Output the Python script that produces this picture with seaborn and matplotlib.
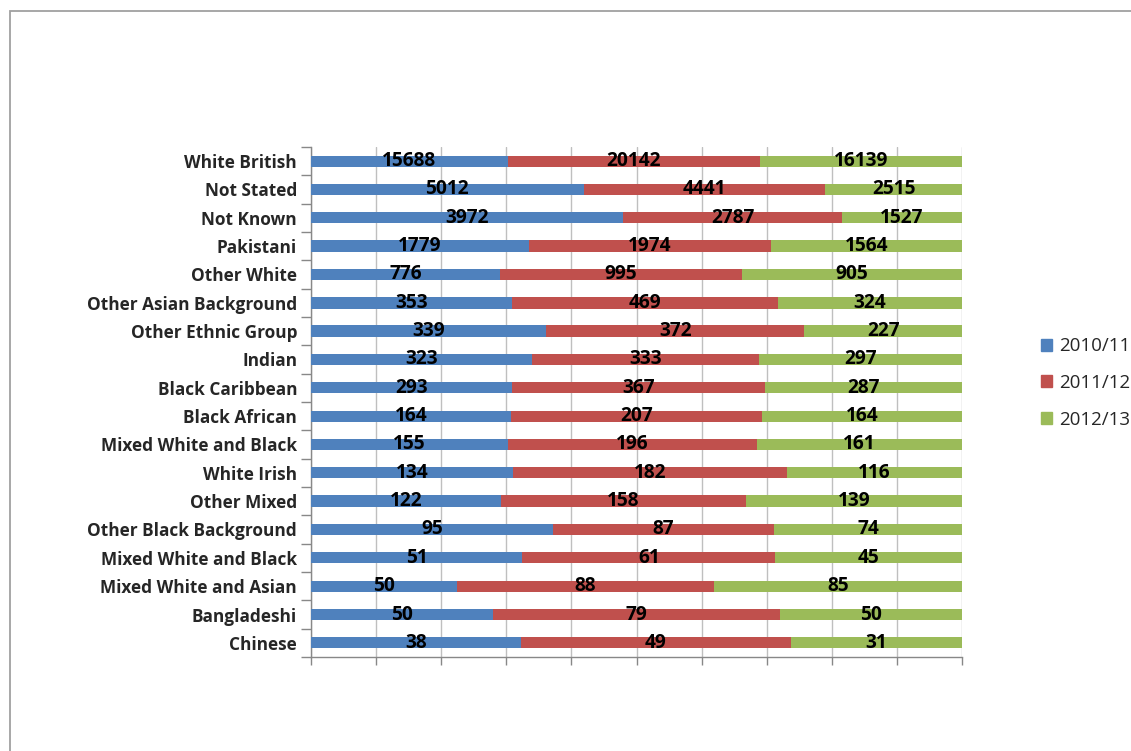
import matplotlib
matplotlib.use("Agg")
import matplotlib.pyplot as plt
import matplotlib.patches as mpatches
import numpy as np
import pandas as pd
import seaborn as sns

categories = [
    "White British", "Not Stated", "Not Known", "Pakistani", "Other White",
    "Other Asian Background", "Other Ethnic Group", "Indian", "Black Caribbean",
    "Black African", "Mixed White and Black", "White Irish", "Other Mixed",
    "Other Black Background", "Mixed White and Black", "Mixed White and Asian",
    "Bangladeshi", "Chinese",
]
years = ["2010/11", "2011/12", "2012/13"]
v_2010_11 = [15688, 5012, 3972, 1779, 776, 353, 339, 323, 293, 164, 155, 134, 122, 95, 51, 50, 50, 38]
v_2011_12 = [20142, 4441, 2787, 1974, 995, 469, 372, 333, 367, 207, 196, 182, 158, 87, 61, 88, 79, 49]
v_2012_13 = [16139, 2515, 1527, 1564, 905, 324, 227, 297, 287, 164, 161, 116, 139, 74, 45, 85, 50, 31]
colors = ["#4F81BD", "#C0504D", "#9BBB59"]

sns.set_theme(style="white")
plt.rcParams["font.family"] = ["Open Sans", "DejaVu Sans"]

vals = np.array([v_2010_11, v_2011_12, v_2012_13], dtype=float)
share = vals / vals.sum(axis=0) * 100
cum = np.cumsum(share, axis=0)

# unique row keys so the repeated category name gets its own bar
rows = [f"{i}" for i in range(len(categories))]

fig = plt.figure(figsize=(11.31, 7.51), dpi=100)
ax = fig.add_axes([311 / 1131, 1 - 657 / 751, (962 - 311) / 1131, (657 - 147) / 751])

# stacked bars: draw cumulative totals from the largest down
for k in reversed(range(3)):
    df = pd.DataFrame({"row": rows, "cum": cum[k]})
    sns.barplot(data=df, x="cum", y="row", orient="h", color=colors[k],
                saturation=1, width=0.4, linewidth=0, ax=ax, zorder=3)

for k in range(3):
    starts = cum[k] - share[k]
    for i in range(len(categories)):
        ax.text(starts[i] + share[k][i] / 2, i, f"{int(vals[k][i])}",
                ha="center", va="center", fontsize=13.8, fontweight="bold",
                color="black", zorder=5)

ax.set_xlim(0, 100)
ax.set_ylim(len(categories) - 0.5, -0.5)
ax.set_xticks(np.arange(0, 101, 10))
ax.set_xticklabels([])
ax.set_yticks(np.arange(len(categories)))
ax.set_yticklabels(categories, fontsize=12.4, fontweight="bold")
ax.set_xlabel("")
ax.set_ylabel("")
ax.xaxis.grid(True, color="#BFBFBF", linewidth=1, zorder=0)
ax.set_axisbelow(True)

# category boundary ticks on the y axis
ax.set_yticks(np.arange(-0.5, len(categories), 1), minor=True)
ax.tick_params(axis="y", which="major", length=0, pad=10)
ax.tick_params(axis="y", which="minor", length=7, color="#888888", width=1, left=True)
ax.tick_params(axis="x", which="major", length=6, color="#888888", width=1, bottom=True)

for side in ["top", "right"]:
    ax.spines[side].set_visible(False)
for side in ["left", "bottom"]:
    ax.spines[side].set_color("#888888")
    ax.spines[side].set_linewidth(1)

handles = [mpatches.Patch(color=c, label=y) for c, y in zip(colors, years)]
fig.legend(handles=handles, loc="center left", bbox_to_anchor=(1041 / 1131, 1 - 383 / 751),
           frameon=False, fontsize=13.5, handlelength=0.6, handleheight=0.6,
           handletextpad=0.35, labelspacing=1.0, borderpad=0, borderaxespad=0)

# outer chart frame
fig.add_artist(plt.Rectangle((10 / 1131, -0.02), 1.05, 1 - 11 / 751 + 0.02,
                             transform=fig.transFigure, fill=False,
                             edgecolor="#A0A0A0", linewidth=1.3))

fig.savefig("out.png", dpi=100)
